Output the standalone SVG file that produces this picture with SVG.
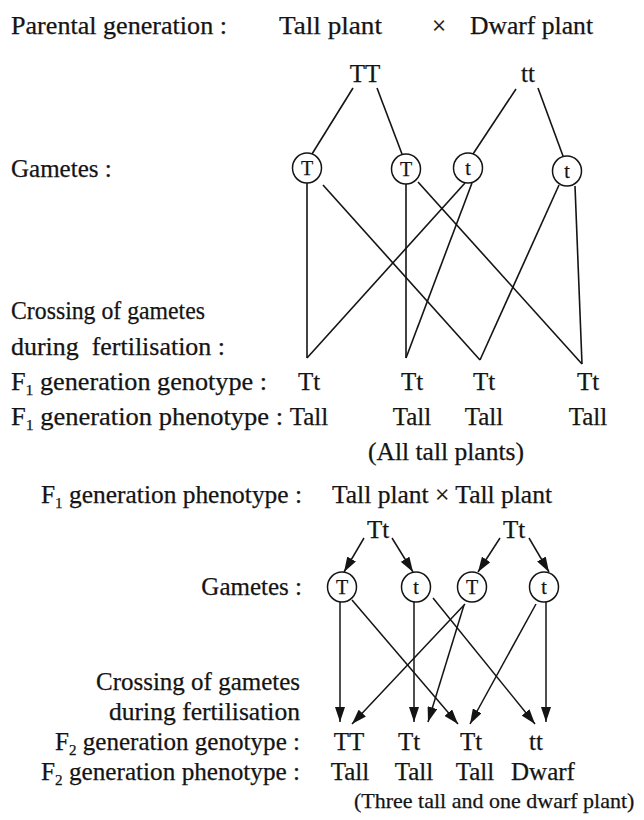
<svg xmlns="http://www.w3.org/2000/svg" width="644" height="820" viewBox="0 0 644 820">
<style>
text{font-family:"Liberation Serif","Times New Roman",serif;font-size:25px;fill:#141414;stroke:#141414;stroke-width:0.25}
.c{text-anchor:middle}
.e{text-anchor:end}
.g{font-size:20px;text-anchor:middle}
.sub{font-size:15px}
.sm{font-size:22px}
ellipse{fill:#fff;stroke:#141414;stroke-width:1.5}
.ln line{stroke:#141414;stroke-width:1.6}
.ar line{stroke:#141414;stroke-width:1.5;marker-end:url(#ah)}
</style>
<defs>
<marker id="ah" viewBox="0 0 15 10" refX="15" refY="5" markerWidth="15" markerHeight="10" markerUnits="userSpaceOnUse" orient="auto">
<path d="M0,0 L15,5 L0,10 z" fill="#141414"/>
</marker>
</defs>
<rect width="644" height="820" fill="#fff"/>

<!-- Part 1 labels -->
<g id="labels1">
<text x="11" y="34" textLength="216" lengthAdjust="spacingAndGlyphs">Parental generation :</text>
<text x="11" y="177">Gametes :</text>
<text x="11" y="319" textLength="194" lengthAdjust="spacingAndGlyphs">Crossing of gametes</text>
<text x="11" y="355" textLength="214" lengthAdjust="spacingAndGlyphs">during&#160; fertilisation :</text>
<text x="11" y="390" textLength="256" lengthAdjust="spacingAndGlyphs">F<tspan class="sub" dy="5">1</tspan><tspan dy="-5"> generation genotype :</tspan></text>
<text x="11" y="425" textLength="272" lengthAdjust="spacingAndGlyphs">F<tspan class="sub" dy="5">1</tspan><tspan dy="-5"> generation phenotype :</tspan></text>
</g>
<g id="parents1">
<text x="279" y="34" textLength="103" lengthAdjust="spacingAndGlyphs">Tall plant</text>
<text x="439" y="34" class="c">×</text>
<text x="470" y="34" textLength="123" lengthAdjust="spacingAndGlyphs">Dwarf plant</text>
<text id="TT" x="365" y="82" class="c">TT</text>
<text id="tt" x="528" y="82" class="c">tt</text>
</g>
<g id="gametes1">
<g id="g1T1"><ellipse cx="307" cy="168" rx="14.5" ry="15"/><text x="307" y="175" class="g">T</text></g>
<g id="g1T2"><ellipse cx="406" cy="169" rx="14.5" ry="15"/><text x="406" y="176" class="g">T</text></g>
<g id="g1t1"><ellipse cx="468" cy="168" rx="14.5" ry="15"/><text x="468" y="175" class="g">t</text></g>
<g id="g1t2"><ellipse cx="567" cy="171" rx="14.5" ry="15"/><text x="567" y="178" class="g">t</text></g>
</g>
<g id="conn1" class="ln">
<line x1="353" y1="88" x2="312" y2="154"/>
<line x1="377" y1="88" x2="402" y2="154"/>
<line x1="516" y1="89" x2="473" y2="154"/>
<line x1="538" y1="88" x2="563" y2="156"/>
<line x1="307" y1="183" x2="307" y2="358"/>
<line x1="323" y1="185" x2="480" y2="360"/>
<line x1="406" y1="184" x2="406" y2="358"/>
<line x1="418" y1="182" x2="582" y2="364"/>
<line x1="465" y1="183" x2="307" y2="358"/>
<line x1="472" y1="183" x2="406" y2="358"/>
<line x1="559" y1="185" x2="480" y2="360"/>
<line x1="575" y1="186" x2="582" y2="364"/>
</g>
<g id="f1">
<text x="309" y="390" class="c">Tt</text>
<text x="412" y="390" class="c">Tt</text>
<text x="484" y="390" class="c">Tt</text>
<text x="588" y="390" class="c">Tt</text>
<text x="309" y="425" class="c">Tall</text>
<text x="412" y="425" class="c">Tall</text>
<text x="484" y="425" class="c">Tall</text>
<text x="588" y="425" class="c">Tall</text>
<text x="368" y="460" textLength="156" lengthAdjust="spacingAndGlyphs">(All tall plants)</text>
</g>

<!-- Part 2 -->
<g id="labels2">
<text x="41" y="503" textLength="261" lengthAdjust="spacingAndGlyphs">F<tspan class="sub" dy="5">1</tspan><tspan dy="-5"> generation phenotype :</tspan></text>
<text x="302" y="595" class="e">Gametes :</text>
<text x="300" y="690" class="e" textLength="204" lengthAdjust="spacingAndGlyphs">Crossing of gametes</text>
<text x="300" y="720" class="e" textLength="191" lengthAdjust="spacingAndGlyphs">during fertilisation</text>
<text x="300" y="750" class="e" textLength="245" lengthAdjust="spacingAndGlyphs">F<tspan class="sub" dy="5">2</tspan><tspan dy="-5"> generation genotype :</tspan></text>
<text x="300" y="780" class="e" textLength="259" lengthAdjust="spacingAndGlyphs">F<tspan class="sub" dy="5">2</tspan><tspan dy="-5"> generation phenotype :</tspan></text>
</g>
<g id="parents2">
<text x="332" y="503" textLength="220" lengthAdjust="spacingAndGlyphs">Tall plant × Tall plant</text>
<text id="Tt1" x="378" y="538" class="c">Tt</text>
<text id="Tt2" x="514" y="538" class="c">Tt</text>
</g>
<g id="gametes2">
<g id="g2T1"><ellipse cx="342" cy="587" rx="14.5" ry="15"/><text x="342" y="594" class="g">T</text></g>
<g id="g2t1"><ellipse cx="416" cy="587" rx="14.5" ry="15"/><text x="416" y="594" class="g">t</text></g>
<g id="g2T2"><ellipse cx="472" cy="587" rx="14.5" ry="15"/><text x="472" y="594" class="g">T</text></g>
<g id="g2t2"><ellipse cx="544" cy="587" rx="14.5" ry="15"/><text x="544" y="594" class="g">t</text></g>
</g>
<g id="conn2" class="ar">
<line x1="364" y1="538" x2="344" y2="572"/>
<line x1="392" y1="538" x2="413" y2="572"/>
<line x1="500" y1="538" x2="478" y2="572"/>
<line x1="529" y1="538" x2="549" y2="572"/>
<line x1="340" y1="602" x2="340" y2="722"/>
<line x1="352" y1="600" x2="458" y2="724"/>
<line x1="414" y1="602" x2="414" y2="722"/>
<line x1="433" y1="598" x2="535" y2="724"/>
<line x1="465" y1="604" x2="352" y2="724"/>
<line x1="464" y1="605" x2="428" y2="722"/>
<line x1="536" y1="604" x2="470" y2="724"/>
<line x1="546" y1="602" x2="546" y2="722"/>
</g>
<g id="f2">
<text x="349" y="750" class="c">TT</text>
<text x="409" y="750" class="c">Tt</text>
<text x="471" y="750" class="c">Tt</text>
<text x="536" y="750" class="c">tt</text>
<text x="350" y="780" class="c">Tall</text>
<text x="414" y="780" class="c">Tall</text>
<text x="475" y="780" class="c">Tall</text>
<text x="543" y="780" class="c">Dwarf</text>
<text x="354" y="808" class="sm">(Three tall and one dwarf plant)</text>
</g>
</svg>
